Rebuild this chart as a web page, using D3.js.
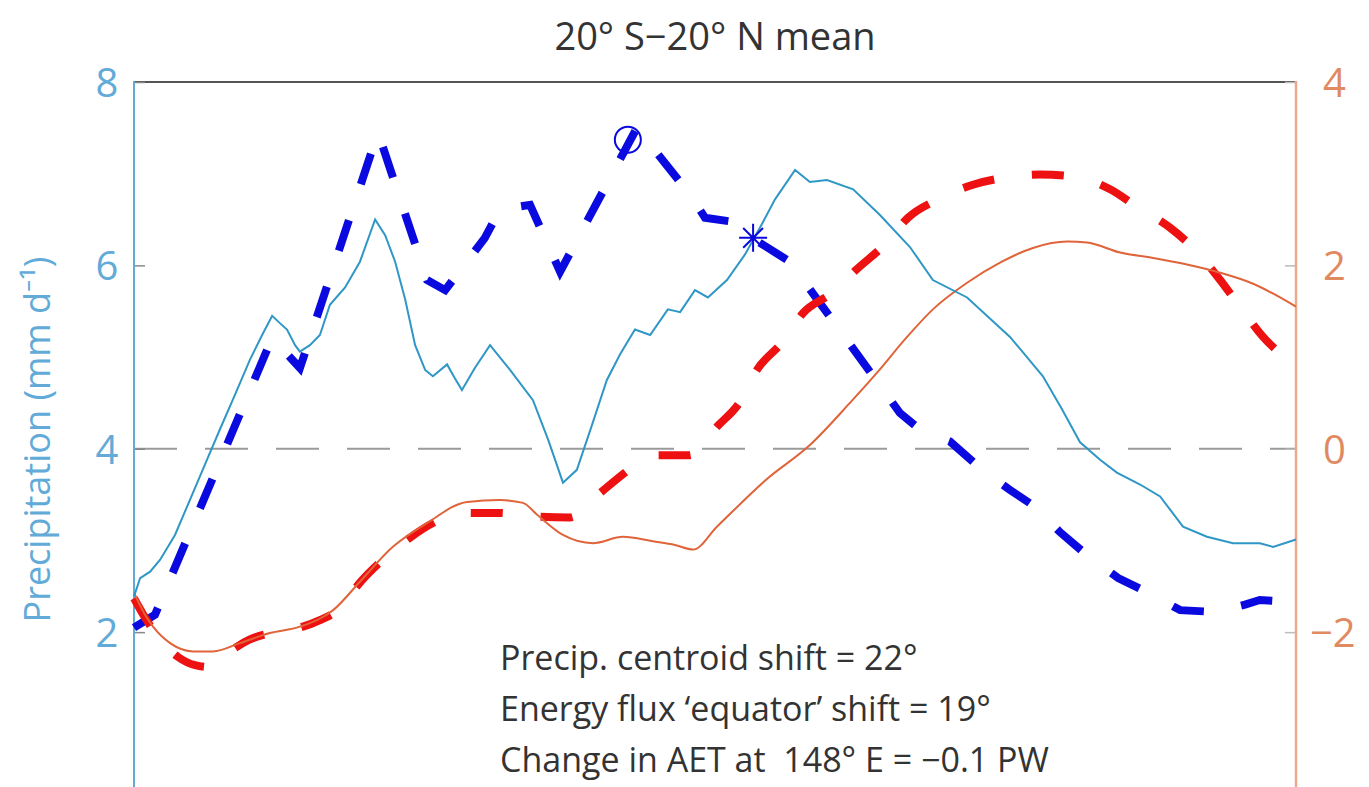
<!DOCTYPE html>
<html><head><meta charset="utf-8">
<script src="https://cdn.jsdelivr.net/npm/d3@7"></script>
<style>html,body{margin:0;padding:0;background:#fff;}svg{display:block;}text{white-space:pre;}</style>
</head><body>
<svg id="chart" width="1369" height="787"></svg>
<script>
// ---- Data (longitude index in degrees across the panel) ----
const precipLon = [0,1.9,5,8.1,12.7,17.3,22,26.6,31.3,35.9,39.7,42.8,45.2,47.4,49.9,51.4,54.5,57.6,60.7,65.4,70,74.7,77.8,80.9,84,87.1,90.2,92.6,97,99.4,101.6,105.6,110.3,116.5,123.6,128.3,132.9,137.2,141.9,146.5,150.6,155.2,159.9,165.4,169.2,173.8,177.8,183.7,189.3,193.9,198.6,204.8,209.4,214.7,222.8,231.1,240.4,247.5,258.1,271.4,281.6,287.5,293.1,299.3,304.5,311.7,317.9,325,332.4,340.5,348.8,352.9,360];
const precipVal = [2.39,2.59,2.66,2.79,3.06,3.44,3.83,4.21,4.59,4.97,5.24,5.45,5.37,5.30,5.13,5.06,5.13,5.24,5.57,5.76,6.04,6.50,6.33,6.04,5.63,5.13,4.86,4.79,4.92,4.77,4.64,4.88,5.13,4.86,4.53,4.10,3.63,3.77,4.26,4.75,5.03,5.30,5.24,5.52,5.49,5.73,5.65,5.84,6.12,6.41,6.72,7.04,6.91,6.93,6.83,6.55,6.20,5.84,5.65,5.22,4.79,4.43,4.07,3.88,3.74,3.61,3.48,3.15,3.04,2.97,2.97,2.93,3.01];

const precipCoarseLon = [0,6.5,42.8,51.4,75.6,90.8,96.4,108.7,113.4,122.7,132,155.8,172.3,176.9,184.6,192.4,203.2,237.3,243.5,252.8,262.1,271.4,279.1,286.9,296.2,304.9,314.8,324.1,334.9,344.2,348.8,353.5,356.6,360];
const precipCoarseVal = [2.05,2.19,5.21,4.88,7.45,5.84,5.73,6.30,6.61,6.66,5.93,7.50,6.77,6.52,6.48,6.28,6.04,4.39,4.21,4.08,3.79,3.55,3.37,3.09,2.81,2.59,2.42,2.24,2.22,2.30,2.35,2.34,2.37,2.37];

const fluxCoarseLon = [0,3.4,8.1,13.6,18.9,23.5,29.7,35.9,42.1,51.4,57.6,63.8,70,77.1,85.5,92.6,99.4,104.1,113.4,119.6,124.9,135.1,143.8,152.1,158.3,162,172.3,175.4,180.6,187.7,193,200.8,207.3,216.2,224.3,232.7,239.8,249.1,259.9,270.5,280.7,290.9,302.4,311.1,321,328.7,336.5,342.6,349.8,357.2,360];
const fluxCoarseVal = [-1.63,-1.84,-2.08,-2.27,-2.36,-2.38,-2.21,-2.08,-2.01,-1.95,-1.87,-1.74,-1.46,-1.21,-0.97,-0.81,-0.72,-0.70,-0.70,-0.72,-0.74,-0.75,-0.50,-0.26,-0.10,-0.07,-0.07,0.04,0.24,0.51,0.86,1.16,1.48,1.70,1.97,2.23,2.52,2.72,2.88,2.96,2.99,2.97,2.83,2.63,2.41,2.17,1.84,1.55,1.22,0.97,0.88];

const fluxLon = [0,3.4,5.9,11.2,18.3,24.5,32.8,42.1,51.4,61.7,70,80.2,90.8,103.2,113.4,120.5,124.9,132.9,142.2,151.5,160.8,167.6,173.2,180.6,196.1,209.4,221.8,230.2,239.5,247.5,258.1,268.3,278.5,289.1,295.2,305.5,315.7,326.2,336.5,346.7,360];
const fluxVal = [-1.57,-1.81,-1.94,-2.12,-2.21,-2.21,-2.12,-2.01,-1.94,-1.76,-1.45,-1.07,-0.81,-0.58,-0.56,-0.59,-0.72,-0.94,-1.03,-0.96,-1.01,-1.05,-1.10,-0.85,-0.33,0.04,0.50,0.83,1.22,1.52,1.81,2.03,2.19,2.26,2.25,2.14,2.08,2.01,1.92,1.80,1.55];

const circleMarker = {lon: 153.0, val: 7.37};
const starMarker = {lon: 191.8, val: 6.30};

const leftTicks = [2,4,6,8];
const rightTicks = [-2,0,2,4];
const titleText = "20° S\u221220° N mean";
const yLabel = "Precipitation (mm d\u207B\u00B9)";
const notes = ["Precip. centroid shift = 22°", "Energy flux \u2018equator\u2019 shift = 19°", "Change in AET at  148° E = \u22120.1 PW"];

// ---- Drawing ----
const svg = d3.select("#chart");
const font = "'Open Sans', 'Noto Sans', sans-serif";
const x = d3.scaleLinear().domain([0,360]).range([134,1296]);
const yL = d3.scaleLinear().domain([0.3,8]).range([788,82]);
const yR = d3.scaleLinear().domain([-3.7,4]).range([788,82]);

const cBlueAxis = "#62aad8", cOrangeAxis = "#eea88c";

// zero dashed line
svg.append("line").attr("x1", x(0)).attr("x2", x(360)).attr("y1", yR(0)).attr("y2", yR(0))
  .attr("stroke", "#9a9a9a").attr("stroke-width", 2.2).attr("stroke-dasharray", "43,28");

// top border
svg.append("line").attr("x1", x(0)).attr("x2", x(360)).attr("y1", yL(8)).attr("y2", yL(8))
  .attr("stroke", "#555").attr("stroke-width", 2);

// left axis
const gl = svg.append("g").attr("transform", `translate(${x(0)},0)`)
  .call(d3.axisLeft(yL).tickValues(leftTicks).tickSize(-11).tickFormat(d3.format("d")));
gl.select(".domain").remove();
gl.selectAll(".tick line").attr("stroke", "#888").attr("stroke-width", 1.5);
gl.selectAll(".tick text").attr("fill", cBlueAxis).attr("font-family", font).attr("font-size", 40)
  .attr("dy", "0.36em").attr("x", -27).attr("text-anchor", "middle");
svg.append("line").attr("x1", x(0)).attr("x2", x(0)).attr("y1", yL(8)-1).attr("y2", 787)
  .attr("stroke", cBlueAxis).attr("stroke-width", 2);

// right axis
const gr = svg.append("g").attr("transform", `translate(${x(360)},0)`)
  .call(d3.axisRight(yR).tickValues(rightTicks).tickSize(-11).tickFormat(d => d < 0 ? "\u2212" + Math.abs(d) : String(d)));
gr.select(".domain").remove();
gr.selectAll(".tick line").attr("stroke", "#bbb").attr("stroke-width", 1.5);
gr.selectAll(".tick text").attr("fill", "#e08a62").attr("font-family", font).attr("font-size", 40)
  .attr("dy", "0.36em").attr("x", d => d < 0 ? 14 : 27).attr("text-anchor", "start");
svg.append("line").attr("x1", x(360)).attr("x2", x(360)).attr("y1", yR(4)-1).attr("y2", 787)
  .attr("stroke", cOrangeAxis).attr("stroke-width", 2.5);

// lines
const lineL = d3.line().x(d => x(d[0])).y(d => yL(d[1]));
const lineRs = d3.line().x(d => x(d[0])).y(d => yR(d[1])).curve(d3.curveMonotoneX);

svg.append("path").datum(d3.zip(precipCoarseLon, precipCoarseVal)).attr("d", lineL)
  .attr("fill", "none").attr("stroke", "#0a0ae0").attr("stroke-width", 8).attr("stroke-dasharray", "32,38");
svg.append("path").datum(d3.zip(fluxCoarseLon, fluxCoarseVal)).attr("d", lineRs)
  .attr("fill", "none").attr("stroke", "#ee1111").attr("stroke-width", 8).attr("stroke-dasharray", "32,38");
svg.append("path").datum(d3.zip(fluxLon, fluxVal)).attr("d", lineRs)
  .attr("fill", "none").attr("stroke", "#e0643a").attr("stroke-width", 2);
svg.append("path").datum(d3.zip(precipLon, precipVal)).attr("d", lineL)
  .attr("fill", "none").attr("stroke", "#2f97c6").attr("stroke-width", 2);

// markers
svg.append("circle").attr("cx", x(circleMarker.lon)).attr("cy", yL(circleMarker.val)).attr("r", 13)
  .attr("fill", "none").attr("stroke", "#0a0ae0").attr("stroke-width", 2);
const sx = x(starMarker.lon), sy = yL(starMarker.val), sr = 14, sd = sr * Math.SQRT1_2;
svg.append("path")
  .attr("d", `M${sx-sr},${sy}L${sx+sr},${sy}M${sx},${sy-sr}L${sx},${sy+sr}M${sx-sd},${sy-sd}L${sx+sd},${sy+sd}M${sx-sd},${sy+sd}L${sx+sd},${sy-sd}`)
  .attr("stroke", "#0a0ae0").attr("stroke-width", 2).attr("fill", "none");

// title
svg.append("text").attr("x", 715).attr("y", 50).attr("text-anchor", "middle")
  .attr("font-family", font).attr("font-size", 38).attr("fill", "#333").text(titleText);

// y label
svg.append("text").attr("transform", `translate(50,${yL(4.1)}) rotate(-90)`).attr("text-anchor", "middle")
  .attr("font-family", font).attr("font-size", 36).attr("fill", cBlueAxis).text(yLabel);

// notes
svg.selectAll("text.note").data(notes).join("text").attr("class", "note")
  .attr("x", 500).attr("y", (d, i) => 670 + i * 51)
  .attr("font-family", font).attr("font-size", 34).attr("fill", "#333").text(d => d);
</script>
</body></html>
